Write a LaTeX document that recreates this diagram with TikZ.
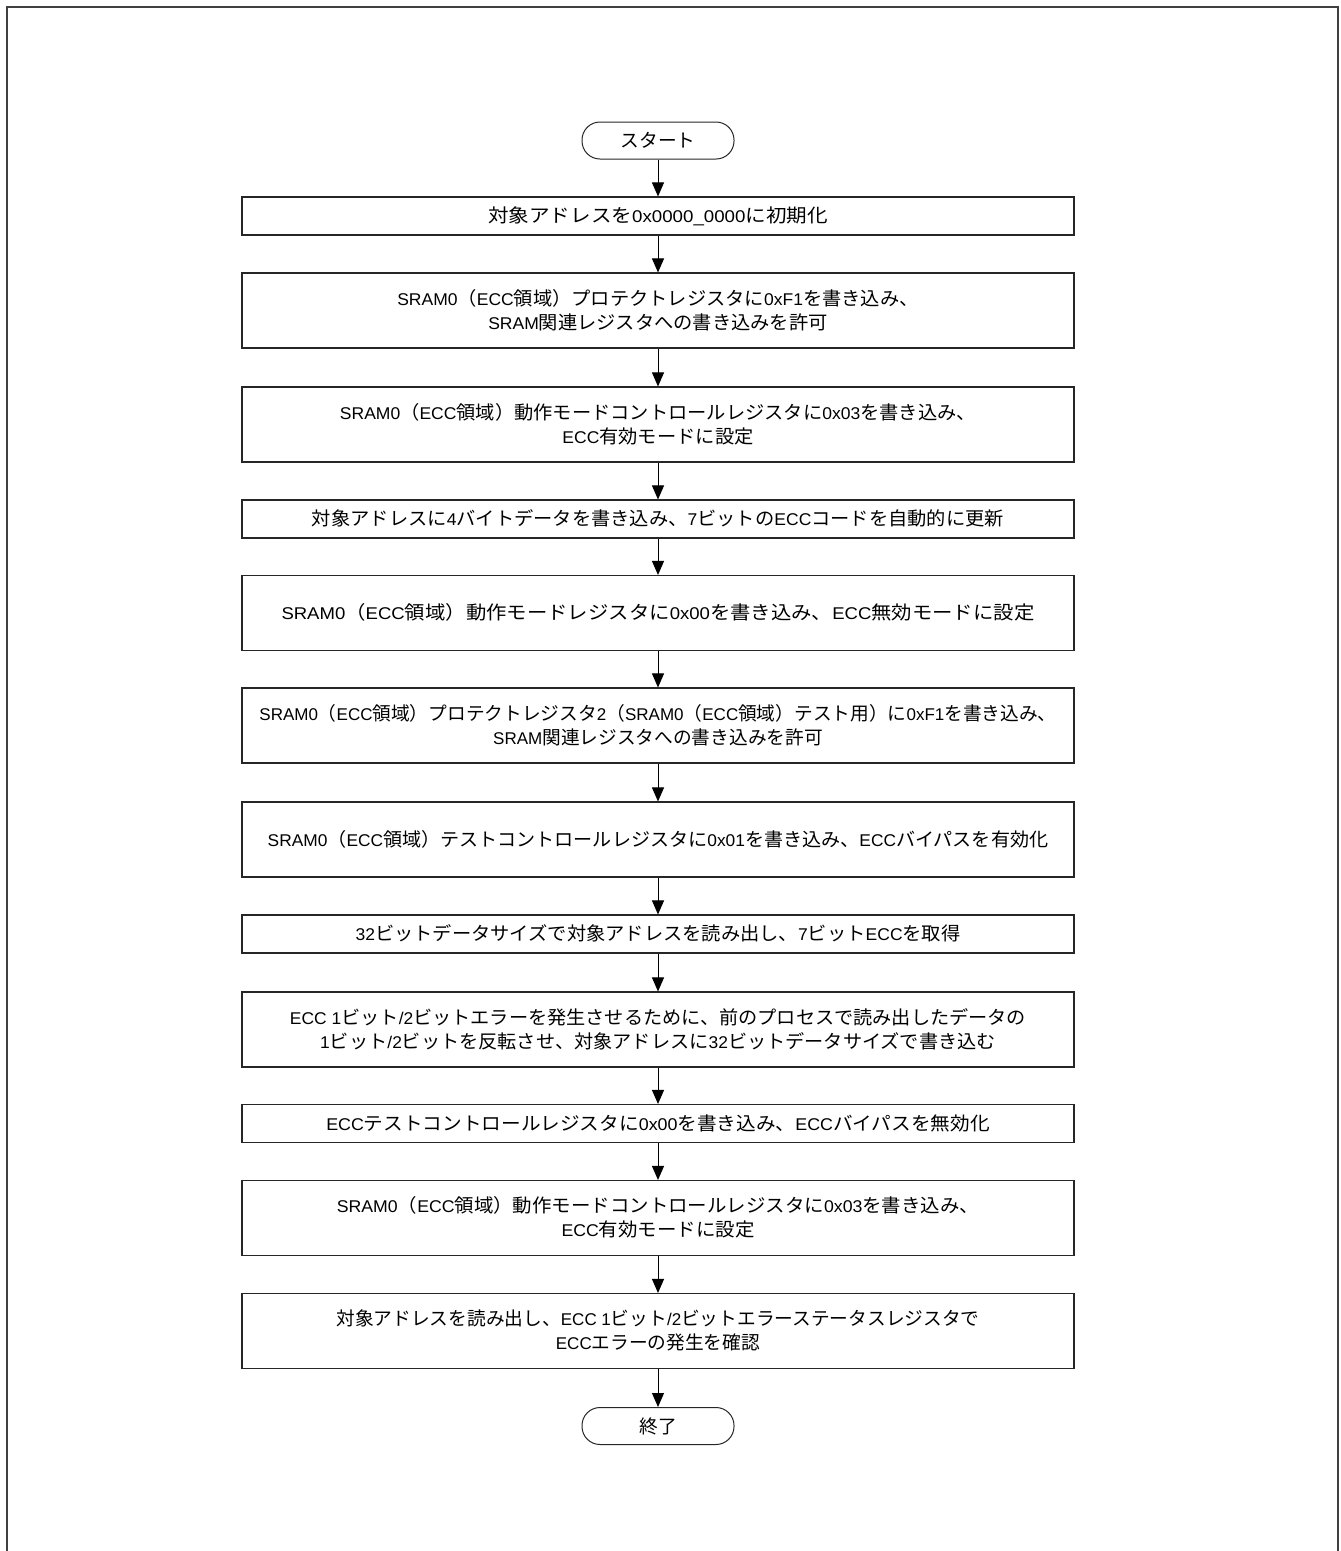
\documentclass[tikz,border=0pt]{standalone}
\usepackage{fontspec}
\usepackage{graphicx}
\setmainfont{Liberation Sans}
\newfontfamily\lafont{Liberation Sans}
\newfontfamily\jpfont[Scale=1.1]{Noto Sans CJK JP}
\usetikzlibrary{arrows.meta}
\XeTeXinterchartokenstate=1
\newXeTeXintercharclass\jpclass
\makeatletter
\count@="3000
\loop\ifnum\count@<"3100 \XeTeXcharclass\count@=\jpclass \advance\count@ 1 \repeat
\count@="4E00
\loop\ifnum\count@<"A000 \XeTeXcharclass\count@=\jpclass \advance\count@ 1 \repeat
\count@="FF00
\loop\ifnum\count@<"FFF0 \XeTeXcharclass\count@=\jpclass \advance\count@ 1 \repeat
\makeatother
\XeTeXinterchartoks 0 \jpclass = {\jpfont}
\XeTeXinterchartoks 4095 \jpclass = {\jpfont}
\XeTeXinterchartoks \jpclass 0 = {\lafont}
\XeTeXinterchartoks \jpclass 4095 = {\lafont}
\newcommand{\bt}[2]{\raisebox{-2pt}[\height][\depth]{\scalebox{#1}[1]{\begin{tabular}{@{}c@{}}#2\end{tabular}}}}
\tikzset{
  procbox/.style={draw=black!85, line width=1.1pt, rectangle, minimum width=832pt,
    inner sep=0pt, align=center, font=\lafont\fontsize{17}{24}\selectfont, text=black},
  onebox/.style={procbox, minimum height=38pt},
  twobox/.style={procbox, minimum height=75pt},
  termbox/.style={draw=black!85, line width=1pt, rectangle, rounded corners=18pt,
    minimum width=152pt, minimum height=37pt, inner sep=0pt,
    font=\lafont\fontsize{17}{24}\selectfont},
  arr/.style={draw=black, line width=1pt, -{Triangle[length=14pt,width=12pt]}},
  frameline/.style={draw=black!75, line width=1.6pt}
}
\begin{document}
\begin{tikzpicture}[x=1pt,y=-1pt]
\useasboundingbox (0,0) rectangle (1341,1551);
\coordinate (fbl) at (7,1551);
\coordinate (ftl) at (7,7);
\coordinate (ftr) at (1338,7);
\coordinate (fbr) at (1338,1551);
\draw[frameline] (fbl) -- (ftl) -- (ftr) -- (fbr);

\node[termbox] (t0) at (658,140.5) {スタート};
\node[onebox] (b1) at (658,216) {\bt{1.1}{対象アドレスを0x0000\_0000に初期化}};
\node[twobox] (b2) at (658,310.5) {\bt{1.03}{SRAM0（ECC領域）プロテクトレジスタに0xF1を書き込み、\\SRAM関連レジスタへの書き込みを許可}};
\node[twobox] (b3) at (658,424.5) {\bt{1.03}{SRAM0（ECC領域）動作モードコントロールレジスタに0x03を書き込み、\\ECC有効モードに設定}};
\node[onebox] (b4) at (658,519) {\bt{1.03}{対象アドレスに4バイトデータを書き込み、7ビットのECCコードを自動的に更新}};
\node[twobox] (b5) at (658,613) {\bt{1.09}{SRAM0（ECC領域）動作モードレジスタに0x00を書き込み、ECC無効モードに設定}};
\node[twobox] (b6) at (658,725.5) {\bt{1.0}{SRAM0（ECC領域）プロテクトレジスタ2（SRAM0（ECC領域）テスト用）に0xF1を書き込み、\\SRAM関連レジスタへの書き込みを許可}};
\node[twobox] (b7) at (658,839.5) {\bt{1.02}{SRAM0（ECC領域）テストコントロールレジスタに0x01を書き込み、ECCバイパスを有効化}};
\node[onebox] (b8) at (658,934) {\bt{1.03}{32ビットデータサイズで対象アドレスを読み出し、7ビットECCを取得}};
\node[twobox] (b9) at (658,1029.5) {\bt{1.025}{ECC 1ビット/2ビットエラーを発生させるために、前のプロセスで読み出したデータの\\1ビット/2ビットを反転させ、対象アドレスに32ビットデータサイズで書き込む}};
\node[onebox] (b10) at (658,1123.5) {\bt{1.05}{ECCテストコントロールレジスタに0x00を書き込み、ECCバイパスを無効化}};
\node[twobox] (b11) at (658,1218) {\bt{1.04}{SRAM0（ECC領域）動作モードコントロールレジスタに0x03を書き込み、\\ECC有効モードに設定}};
\node[twobox] (b12) at (658,1331) {\bt{1.0}{対象アドレスを読み出し、ECC 1ビット/2ビットエラーステータスレジスタで\\ECCエラーの発生を確認}};
\node[termbox] (t1) at (658,1426) {終了};

\draw[arr] (t0) -- (b1);
\draw[arr] (b1) -- (b2);
\draw[arr] (b2) -- (b3);
\draw[arr] (b3) -- (b4);
\draw[arr] (b4) -- (b5);
\draw[arr] (b5) -- (b6);
\draw[arr] (b6) -- (b7);
\draw[arr] (b7) -- (b8);
\draw[arr] (b8) -- (b9);
\draw[arr] (b9) -- (b10);
\draw[arr] (b10) -- (b11);
\draw[arr] (b11) -- (b12);
\draw[arr] (b12) -- (t1);
\end{tikzpicture}
\end{document}
